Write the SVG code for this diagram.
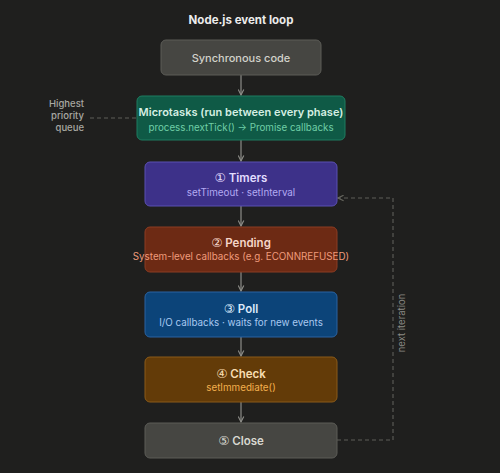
<svg xmlns="http://www.w3.org/2000/svg" width="500" height="473" viewBox="0 0 500 473">
<defs>
<marker id="ah" viewBox="0 0 10 10" refX="9" refY="5" markerWidth="7" markerHeight="7" orient="auto-start-reverse" markerUnits="userSpaceOnUse">
<path d="M1,1 L9,5 L1,9" fill="none" stroke="#8d8d88" stroke-width="1.6"/>
</marker>
<marker id="ahd" viewBox="0 0 10 10" refX="9" refY="5" markerWidth="7" markerHeight="7" orient="auto-start-reverse" markerUnits="userSpaceOnUse">
<path d="M1,1 L9,5 L1,9" fill="none" stroke="#66665f" stroke-width="1.6"/>
</marker>
</defs>
<style>
text{font-family:Inter,"DejaVu Sans",sans-serif;text-anchor:middle}
.t{font-size:11.5px;font-weight:600}
.s{font-size:9.8px;font-weight:400}
.n{font-family:"DejaVu Sans",sans-serif;font-weight:400;font-size:12.5px}
.c{stroke:#8d8d88;stroke-width:1.2;fill:none}
.d{stroke:#5e5e59;stroke-width:1.1;fill:none;stroke-dasharray:4 3}
.l{font-size:9.5px;font-weight:500;fill:#a8a8a2;text-anchor:end}
</style>
<rect width="500" height="473" fill="#1f1f1e"/>
<text x="241" y="24" font-size="11.5" fill="#ececec" style="font-weight:700">Node.js event loop</text>
<g id="connectors">
<line class="c" x1="241" y1="75" x2="241" y2="95" marker-end="url(#ah)"/>
<line class="c" x1="241" y1="140" x2="241" y2="161" marker-end="url(#ah)"/>
<line class="c" x1="241" y1="206" x2="241" y2="226" marker-end="url(#ah)"/>
<line class="c" x1="241" y1="272" x2="241" y2="291" marker-end="url(#ah)"/>
<line class="c" x1="241" y1="337" x2="241" y2="356" marker-end="url(#ah)"/>
<line class="c" x1="241" y1="402" x2="241" y2="422" marker-end="url(#ah)"/>
<path class="d" d="M337,440 H393 V198 H338" marker-end="url(#ahd)"/>
<line class="d" x1="90" y1="118" x2="137" y2="118"/>
<text x="405" y="323" transform="rotate(-90 405 323)" font-size="9.5" fill="#8a8a84">next iteration</text>
<text class="l" x="84" y="107">Highest</text>
<text class="l" x="84" y="119">priority</text>
<text class="l" x="84" y="131">queue</text>
</g>
<g id="sync">
<rect x="161" y="40" width="160" height="35" rx="5" fill="#464642" stroke="#5c5c57"/>
<text x="241" y="62" font-size="11" font-weight="500" fill="#d2d2ca">Synchronous code</text>
</g>
<g id="microtasks">
<rect x="137" y="96" width="208" height="44" rx="5" fill="#0f5a46" stroke="#1f7c60"/>
<text class="t" x="241" y="116" fill="#d6efe3" style="font-size:11px">Microtasks (run between every phase)</text>
<text class="s" x="241" y="131" fill="#6fcfa6">process.nextTick() → Promise callbacks</text>
</g>
<g id="timers">
<rect x="145" y="162" width="192" height="44" rx="5" fill="#3d3189" stroke="#5b50b2"/>
<text class="t" x="241" y="182" fill="#e2ddff"><tspan class="n">①</tspan> Timers</text>
<text class="s" x="241" y="196" fill="#b3aaf2">setTimeout · setInterval</text>
</g>
<g id="pending">
<rect x="145" y="227" width="192" height="45" rx="5" fill="#6d2a14" stroke="#8c3c22"/>
<text class="t" x="241" y="247" fill="#f6d6c9"><tspan class="n">②</tspan> Pending</text>
<text class="s" x="241" y="260" fill="#f09b7b">System-level callbacks (e.g. ECONNREFUSED)</text>
</g>
<g id="poll">
<rect x="145" y="292" width="192" height="45" rx="5" fill="#0c4479" stroke="#2a63a2"/>
<text class="t" x="241" y="313" fill="#dde9f9"><tspan class="n">③</tspan> Poll</text>
<text class="s" x="241" y="326" fill="#a9c9f1">I/O callbacks · waits for new events</text>
</g>
<g id="check">
<rect x="145" y="357" width="192" height="45" rx="5" fill="#633b08" stroke="#8b5b19"/>
<text class="t" x="241" y="378" fill="#f8deb2"><tspan class="n">④</tspan> Check</text>
<text class="s" x="241" y="391" fill="#f3b04e">setImmediate()</text>
</g>
<g id="close">
<rect x="145" y="423" width="192" height="35" rx="5" fill="#464642" stroke="#5c5c57"/>
<text class="t" x="241" y="445" fill="#d8d8d0"><tspan class="n">⑤</tspan> Close</text>
</g>
</svg>
